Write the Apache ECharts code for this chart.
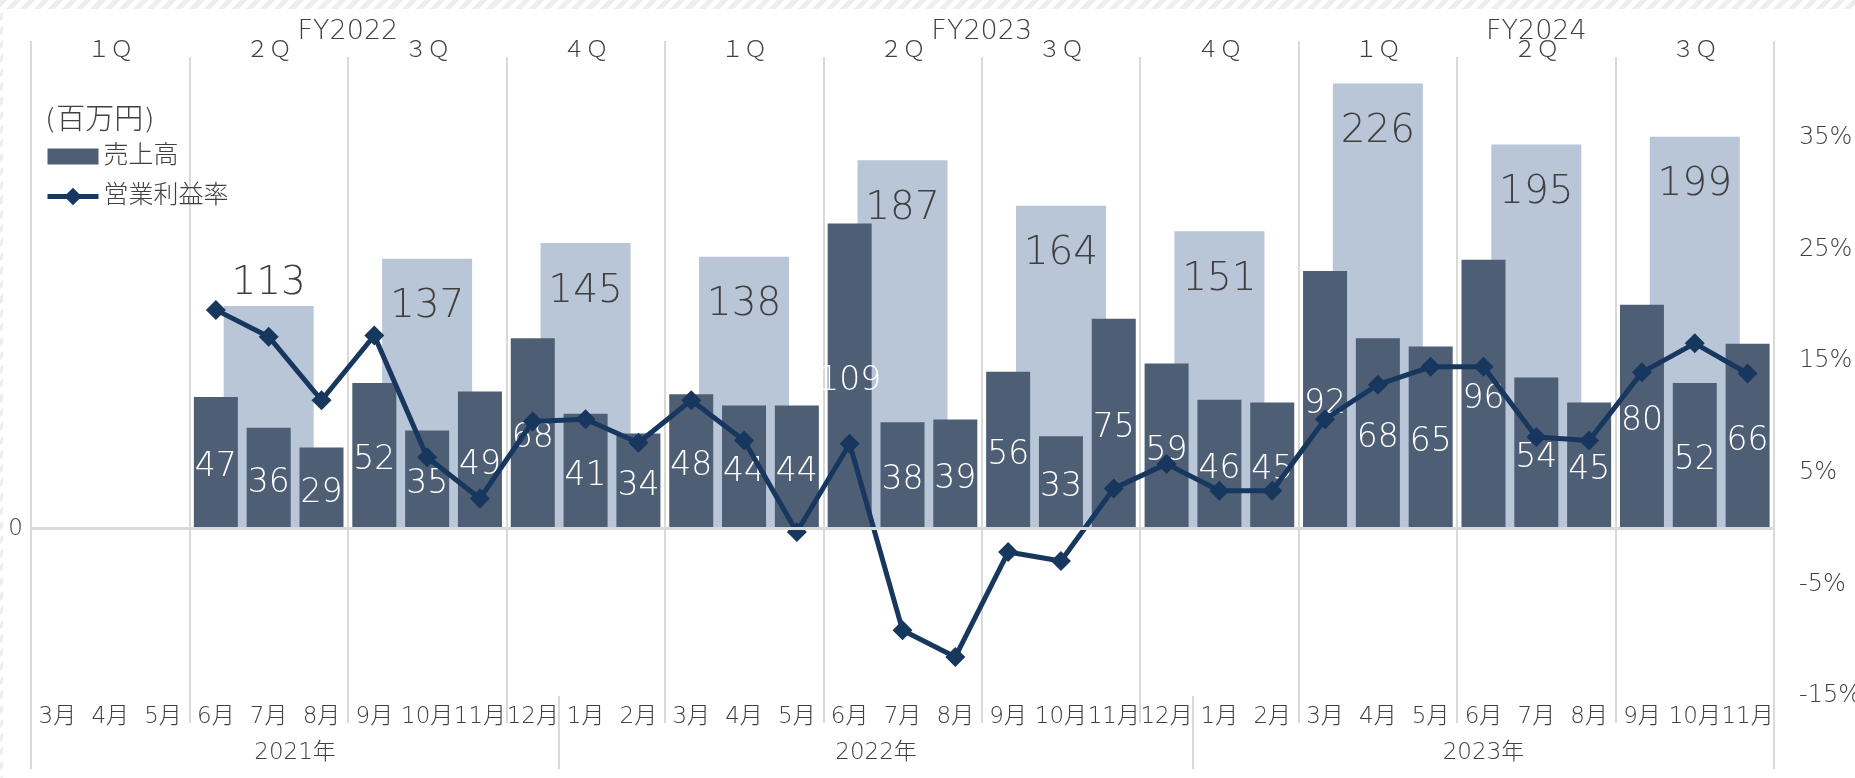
<!DOCTYPE html>
<html>
<head>
<meta charset="utf-8">
<title>売上高・営業利益率</title>
<script src="https://cdn.jsdelivr.net/npm/echarts@6/dist/echarts.min.js"></script>
<style>
  html, body { margin: 0; padding: 0; }
  body {
    width: 1855px; height: 778px; overflow: hidden; position: relative;
    background: repeating-linear-gradient(135deg, #eeeeee 0 5px, #ffffff 5px 10px);
  }
  #sheet { position: absolute; left: 3px; top: 9px; right: 0; bottom: 0; background: #fff; }
  #main { position: absolute; left: 0; top: 0; width: 1855px; height: 778px; }
</style>
</head>
<body>
<div id="sheet"></div>
<div id="main"></div>
<script>
// 月（3月始まりの決算期）
const months = ['3月', '4月', '5月', '6月', '7月', '8月', '9月', '10月', '11月', '12月', '1月', '2月',
  '3月', '4月', '5月', '6月', '7月', '8月', '9月', '10月', '11月', '12月', '1月', '2月',
  '3月', '4月', '5月', '6月', '7月', '8月', '9月', '10月', '11月']
const years = ['2021年', '2022年', '2023年']
const yearMonthCounts = [10, 12, 11]
const quarters = ['１Ｑ', '２Ｑ', '３Ｑ', '４Ｑ', '１Ｑ', '２Ｑ', '３Ｑ', '４Ｑ', '１Ｑ', '２Ｑ', '３Ｑ']
const fiscalYears = ['FY2022', 'FY2023', 'FY2024']
const fyQuarterCounts = [4, 4, 3]

// 売上高（百万円）
const monthlySales = [null, null, null, 47, 36, 29, 52, 35, 49, 68, 41, 34,
  48, 44, 44, 109, 38, 39, 56, 33, 75, 59, 46, 45,
  92, 68, 65, 96, 54, 45, 80, 52, 66]
const quarterlySales = [null, 113, 137, 145, 138, 187, 164, 151, 226, 195, 199]
// 営業利益率（%）
const opMargin = [null, null, null, 19.6, 17.2, 11.5, 17.3, 6.4, 2.7, 9.6, 9.8, 7.7,
  11.5, 7.9, -0.3, 7.6, -9.1, -11.5, -2.1, -2.9, 3.6, 5.8, 3.4, 3.4,
  9.8, 12.9, 14.5, 14.5, 8.2, 7.9, 14.0, 16.6, 13.9]

const TEXT = '#404040'
const LINE = '#d9d9d9'
const FONT = "'DejaVu Sans', 'Noto Sans CJK JP', sans-serif"
const WEIGHT = 200

// 軸の範囲（0 の位置を3軸でそろえる）
const PCT_MIN = -15
const PCT_MAX = 42.26
const MONTH_PER_PCT = 3.986
const QUARTER_PER_PCT = 85 / 15

// 区切り線・ラベル位置は上のデータから計算
const cumulative = arr => arr.reduce((acc, n) => { acc.push(acc[acc.length - 1] + n); return acc }, [0])
const yearStarts = cumulative(yearMonthCounts)
const fyStarts = cumulative(fyQuarterCounts.map(q => q * 3))
const yearCenters = {}
years.forEach((y, i) => { yearCenters[String((yearStarts[i] + yearStarts[i + 1]) / 2)] = y })
const fyCenters = {}
fiscalYears.forEach((y, i) => { fyCenters[String((fyStarts[i] + fyStarts[i + 1]) / 2)] = y })

const sideL = 31
const sideR = 81

function makeGrid (top, bottom, height) {
  const g = { left: sideL, right: sideR, top, outerBoundsMode: 'none', containLabel: false }
  if (height != null) g.height = height
  else g.bottom = bottom
  return g
}
function hiddenY (gridIndex) {
  return { type: 'value', gridIndex, show: false }
}
function boundaryAxis (gridIndex, test) {
  return {
    type: 'category', gridIndex, data: months, boundaryGap: true,
    axisLine: { show: false }, axisTick: { show: false }, axisLabel: { show: false },
    splitLine: { show: true, interval: (i) => test(i), lineStyle: { color: LINE, width: 2 } }
  }
}
function labelAxis (gridIndex, position, formatter, size, margin, offset) {
  return {
    type: 'value', gridIndex, position, offset: offset || 0,
    min: 0, max: months.length, interval: 0.5,
    axisLine: { show: false }, axisTick: { show: false }, splitLine: { show: false },
    axisLabel: {
      formatter, margin, color: TEXT, fontSize: size, fontFamily: FONT, fontWeight: WEIGHT,
      showMinLabel: true, showMaxLabel: true
    }
  }
}

const chart = echarts.init(document.getElementById('main'), null, { renderer: 'canvas' })

chart.setOption({
  animation: false,
  backgroundColor: 'transparent',
  textStyle: { fontFamily: FONT, fontWeight: WEIGHT },
  title: {
    text: '(百万円)', left: 40, top: 102,
    textStyle: { fontSize: 29, fontWeight: WEIGHT, color: TEXT, fontFamily: FONT }
  },
  legend: {
    data: [
      { name: '売上高', icon: 'path://M0 0H51V16H0Z' },
      { name: '営業利益率' }
    ],
    orient: 'vertical', left: 40, top: 139,
    itemWidth: 51, itemHeight: 22, itemGap: 15,
    lineStyle: { width: 5 },
    textStyle: { fontSize: 25, color: TEXT, fontFamily: FONT, fontWeight: WEIGHT }
  },
  grid: [
    makeGrid(57, 82), // 0: 本体
    makeGrid(63, null, 1), // 1: 上部ラベル
    makeGrid(41, 55), // 2: 年度区切り
    makeGrid(57, 55), // 3: 四半期区切り
    makeGrid(696, 9) // 4: 暦年区切り
  ],
  xAxis: [
    {
      type: 'category', gridIndex: 0, data: months, position: 'bottom',
      axisLine: { show: false }, axisTick: { show: false }, splitLine: { show: false },
      axisLabel: { interval: 0, margin: 10, color: TEXT, fontSize: 23, fontFamily: FONT, fontWeight: WEIGHT }
    },
    {
      type: 'category', gridIndex: 0, data: quarters, show: false
    },
    labelAxis(0, 'bottom', v => yearCenters[String(v)] || '', 23, 46),
    {
      type: 'category', gridIndex: 1, data: quarters, position: 'top',
      axisLine: { show: false }, axisTick: { show: false }, splitLine: { show: false },
      axisLabel: { interval: 0, margin: 0, color: TEXT, fontSize: 23, fontFamily: FONT, fontWeight: WEIGHT }
    },
    labelAxis(1, 'top', v => fyCenters[String(v)] || '', 27, 0, 18),
    boundaryAxis(2, i => fyStarts.indexOf(i) >= 0),
    boundaryAxis(3, i => i % 3 === 0),
    boundaryAxis(4, i => yearStarts.indexOf(i) >= 0)
  ],
  yAxis: [
    {
      type: 'value', gridIndex: 0, position: 'left',
      min: PCT_MIN * QUARTER_PER_PCT, max: PCT_MAX * QUARTER_PER_PCT, interval: 85,
      axisLine: { show: false }, axisTick: { show: false }, splitLine: { show: false },
      axisLabel: {
        margin: 8, color: TEXT, fontSize: 23, fontFamily: FONT, fontWeight: WEIGHT,
        formatter: v => (v === 0 ? '0' : '')
      }
    },
    {
      type: 'value', gridIndex: 0, show: false,
      min: PCT_MIN * MONTH_PER_PCT, max: PCT_MAX * MONTH_PER_PCT
    },
    {
      type: 'value', gridIndex: 0, position: 'right',
      min: PCT_MIN, max: PCT_MAX, interval: 10,
      axisLine: { show: false }, axisTick: { show: false }, splitLine: { show: false },
      axisLabel: {
        margin: 25, color: TEXT, fontSize: 24, fontFamily: FONT, fontWeight: WEIGHT,
        showMaxLabel: false, formatter: '{value}%'
      }
    },
    hiddenY(1), hiddenY(2), hiddenY(3), hiddenY(4)
  ],
  series: [
    {
      name: '売上高（四半期）',
      type: 'bar',
      xAxisIndex: 1,
      yAxisIndex: 0,
      barWidth: 90,
      itemStyle: { color: '#b8c6d7' },
      label: {
        show: true, position: 'insideTop', distance: 29,
        color: TEXT, fontSize: 39, fontFamily: FONT, fontWeight: WEIGHT
      },
      // 113 だけ棒の上に表示
      data: quarterlySales.map((v, i) => (i === 1 ? { value: v, label: { position: 'top', distance: 3 } } : v))
    },
    {
      name: '売上高',
      type: 'bar',
      xAxisIndex: 0,
      yAxisIndex: 1,
      barWidth: 44,
      itemStyle: { color: '#4e5f75' },
      label: {
        show: true, position: 'inside', offset: [0, 5],
        color: '#ffffff', fontSize: 33, fontFamily: FONT, fontWeight: WEIGHT
      },
      markLine: {
        silent: true, symbol: 'none', label: { show: false },
        lineStyle: { color: LINE, width: 3, type: 'solid' },
        data: [{ yAxis: 0 }]
      },
      data: monthlySales
    },
    {
      name: '営業利益率',
      type: 'line',
      xAxisIndex: 0,
      yAxisIndex: 2,
      symbol: 'diamond',
      symbolSize: 20,
      lineStyle: { color: '#17375e', width: 5 },
      itemStyle: { color: '#17375e' },
      data: opMargin
    }
  ]
})
</script>
</body>
</html>
